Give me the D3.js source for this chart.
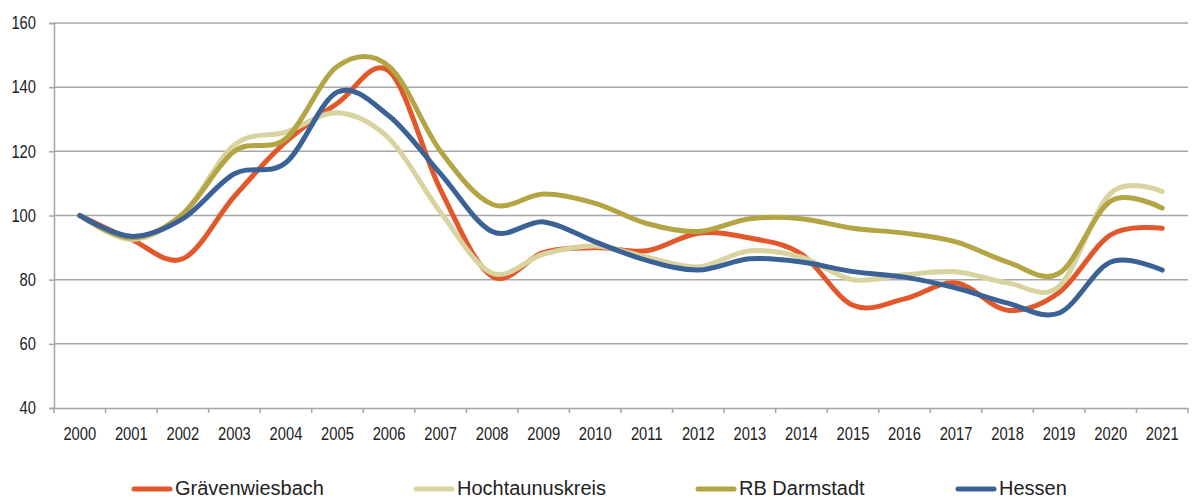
<!DOCTYPE html>
<html>
<head>
<meta charset="utf-8">
<script src="https://cdn.jsdelivr.net/npm/d3@7"></script>
<style>
  html, body { margin: 0; padding: 0; background: #fff; }
  svg { display: block; font-family: "Liberation Sans", Arial, sans-serif; }
</style>
</head>
<body>
<svg id="chart" width="1192" height="500"></svg>
<script>
// Index values (2000 = 100)
const years = ["2000","2001","2002","2003","2004","2005","2006","2007","2008","2009","2010",
               "2011","2012","2013","2014","2015","2016","2017","2018","2019","2020","2021"];
const graevenwiesbach = [100, 92.5, 86.5, 106, 123, 135, 145, 108, 81, 88.5, 90,
                         89, 94.5, 93, 88, 72, 74, 79, 70.5, 76, 94, 96];
const hochtaunuskreis = [100, 92.5, 100.5, 122, 126, 132, 124, 101, 82, 88, 90.5,
                         87, 84, 89, 87, 80, 81.5, 82.5, 79, 78, 107, 107.5];
const rbDarmstadt     = [100, 93, 100.5, 120, 124, 146.5, 146.5, 120, 103.5, 106.7, 103.8,
                         97.5, 95, 99, 99, 96, 94.5, 91.8, 85.5, 82, 104.5, 102.3];
const hessen          = [100, 93.5, 99, 113, 116.5, 138.5, 131, 113, 95, 98, 91.8,
                         86, 83, 86.5, 85.5, 82.5, 80.8, 77.4, 72.7, 69.6, 85.5, 83];
const yTicks = [40, 60, 80, 100, 120, 140, 160];

const series = [
  { name: "Grävenwiesbach",  values: graevenwiesbach, color: "#E2582A" },
  { name: "Hochtaunuskreis", values: hochtaunuskreis, color: "#D9D3A0" },
  { name: "RB Darmstadt",    values: rbDarmstadt,     color: "#B3A544" },
  { name: "Hessen",          values: hessen,          color: "#3A6296" }
];

const svg = d3.select("#chart");
const plotLeft = 54, plotRight = 1188, plotTop = 23, plotBottom = 408;
const narrow = 0.82;          // condensed axis lettering
const axisFont = 18;

const x = d3.scaleBand().domain(years).range([plotLeft, plotRight]).paddingInner(0).paddingOuter(0);
const y = d3.scaleLinear().domain([40, 160]).range([plotBottom, plotTop]);

// horizontal gridlines
svg.append("g")
  .selectAll("line")
  .data(yTicks.filter(t => t > 40))
  .join("line")
  .attr("x1", plotLeft).attr("x2", plotRight)
  .attr("y1", d => y(d)).attr("y2", d => y(d))
  .attr("stroke", "#a6a6a6").attr("stroke-width", 1.5);

// y axis
const yAxis = svg.append("g")
  .attr("transform", `translate(${plotLeft},0)`)
  .call(d3.axisLeft(y).tickValues(yTicks).tickSize(5).tickPadding(13).tickFormat(d3.format("d")));
yAxis.select(".domain").attr("stroke", "#a6a6a6").attr("stroke-width", 1.5);
yAxis.selectAll(".tick line").attr("stroke", "#a6a6a6").attr("stroke-width", 1.5);
yAxis.selectAll("text")
  .attr("font-size", axisFont).attr("fill", "#222")
  .attr("font-family", "'Liberation Sans', Arial, sans-serif")
  .attr("x", -18 / narrow)
  .attr("transform", `scale(${narrow},1)`);

// x axis with ticks at category boundaries
const xAxis = svg.append("g")
  .attr("transform", `translate(0,${plotBottom})`)
  .call(d3.axisBottom(x).tickSize(0).tickPadding(19));
xAxis.select(".domain").attr("stroke", "#a6a6a6").attr("stroke-width", 1.5);
xAxis.selectAll("text")
  .attr("font-size", axisFont).attr("fill", "#222")
  .attr("font-family", "'Liberation Sans', Arial, sans-serif")
  .attr("transform", `scale(${narrow},1)`);
xAxis.append("g")
  .selectAll("line")
  .data(years.concat(["end"]))
  .join("line")
  .attr("x1", (d, i) => plotLeft + i * x.bandwidth())
  .attr("x2", (d, i) => plotLeft + i * x.bandwidth())
  .attr("y1", 0).attr("y2", 5)
  .attr("stroke", "#a6a6a6").attr("stroke-width", 1.5);

// smoothed lines
const line = d3.line()
  .x((d, i) => x(years[i]) + x.bandwidth() / 2)
  .y(d => y(d))
  .curve(d3.curveCatmullRom.alpha(0));

svg.append("g")
  .selectAll("path")
  .data(series)
  .join("path")
  .attr("d", d => line(d.values))
  .attr("fill", "none")
  .attr("stroke", d => d.color)
  .attr("stroke-width", 5)
  .attr("stroke-linejoin", "round")
  .attr("stroke-linecap", "round");

// legend
const legendX = [134, 416, 698, 958];
const legend = svg.append("g")
  .selectAll("g")
  .data(series)
  .join("g")
  .attr("transform", (d, i) => `translate(${legendX[i]},489)`);
legend.append("line")
  .attr("x1", 0).attr("x2", 36).attr("y1", 0).attr("y2", 0)
  .attr("stroke", d => d.color).attr("stroke-width", 5).attr("stroke-linecap", "round");
legend.append("text")
  .attr("x", 41).attr("y", 6)
  .attr("font-size", 20).attr("fill", "#222")
  .text(d => d.name);
</script>
</body>
</html>
